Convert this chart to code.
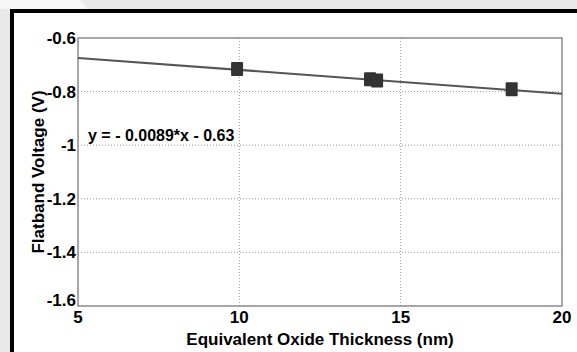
<!DOCTYPE html>
<html>
<head>
<meta charset="utf-8">
<script src="https://cdn.jsdelivr.net/npm/d3@7"></script>
<style>
  body { margin: 0; background: #fff; }
  svg { display: block; font-family: "Liberation Sans", Arial, sans-serif; }
</style>
</head>
<body>
<div id="chart"></div>
<script>
const width = 577;
const height = 352;

// measured points
const thickness = [9.93, 14.05, 14.27, 18.44];
const voltage = [-0.716, -0.754, -0.759, -0.791];

// fitted line y = slope*x + intercept
const slope = -0.0089;
const intercept = -0.63;
const fitLabel = "y = - 0.0089*x - 0.63";

const xTicks = [5, 10, 15, 20];
const yTicks = [-0.6, -0.8, -1, -1.2, -1.4, -1.6];

const margin = { left: 78, right: 15, top: 38, bottom: 46 };

let svg = d3
  .select("#chart")
  .append("svg")
  .attr("width", width)
  .attr("height", height);

// page background + frame
svg.append("rect").attr("width", width).attr("height", height).attr("fill", "#e9e9e9");
svg.append("path").attr("d", "M0,0 L80,0 L88,9 L0,9 Z").attr("fill", "#f6f6f6");
svg.append("rect").attr("x", 10).attr("y", 9).attr("width", width).attr("height", height).attr("fill", "#000");
svg.append("rect").attr("x", 14).attr("y", 13).attr("width", width).attr("height", height).attr("fill", "#fff");

const x = d3
  .scaleLinear()
  .domain([5, 20])
  .range([margin.left, width - margin.right]);

const y = d3
  .scaleLinear()
  .domain([-1.6, -0.6])
  .range([height - margin.bottom, margin.top]);

let g = svg.append("g");

// grid
g.selectAll(".vgrid")
  .data(xTicks.slice(1, -1))
  .enter()
  .append("line")
  .attr("x1", d => x(d)).attr("x2", d => x(d))
  .attr("y1", y(-0.6)).attr("y2", y(-1.6))
  .attr("stroke", "#999").attr("stroke-width", 1).attr("stroke-dasharray", "1,2");

g.selectAll(".hgrid")
  .data(yTicks.slice(1, -1))
  .enter()
  .append("line")
  .attr("x1", x(5)).attr("x2", x(20))
  .attr("y1", d => y(d)).attr("y2", d => y(d))
  .attr("stroke", "#999").attr("stroke-width", 1).attr("stroke-dasharray", "1,2");

// box
g.append("rect")
  .attr("x", x(5)).attr("y", y(-0.6))
  .attr("width", x(20) - x(5)).attr("height", y(-1.6) - y(-0.6))
  .attr("fill", "none").attr("stroke", "#8a8a8a").attr("stroke-width", 1.5);

// fit line
g.append("line")
  .attr("x1", x(5)).attr("y1", y(slope * 5 + intercept))
  .attr("x2", x(20)).attr("y2", y(slope * 20 + intercept))
  .attr("stroke", "#555").attr("stroke-width", 2);

// markers
g.selectAll(".pt")
  .data(thickness)
  .enter()
  .append("rect")
  .attr("x", (d, i) => x(d) - 6)
  .attr("y", (d, i) => y(voltage[i]) - 7)
  .attr("width", 12).attr("height", 14)
  .attr("rx", 1)
  .attr("fill", "#333");

// tick labels
g.selectAll(".xt")
  .data(xTicks)
  .enter()
  .append("text")
  .attr("x", d => x(d))
  .attr("y", y(-1.6) + 17)
  .attr("text-anchor", "middle")
  .attr("font-size", 17).attr("font-weight", "bold")
  .text(d => d);

g.selectAll(".yt")
  .data(yTicks)
  .enter()
  .append("text")
  .attr("x", x(5) - 2)
  .attr("y", d => (d === -1.6 ? y(d) : y(d) + 6))
  .attr("text-anchor", "end")
  .attr("font-size", 17).attr("font-weight", "bold")
  .text(d => d);

// axis titles
svg.append("text")
  .attr("x", (x(5) + x(20)) / 2)
  .attr("y", 345)
  .attr("text-anchor", "middle")
  .attr("font-size", 17).attr("font-weight", "bold")
  .text("Equivalent Oxide Thickness (nm)");

svg.append("text")
  .attr("transform", "translate(44," + (y(-1.1)) + ") rotate(-90)")
  .attr("text-anchor", "middle")
  .attr("font-size", 17).attr("font-weight", "bold")
  .text("Flatband Voltage (V)");

// equation
svg.append("text")
  .attr("x", 88).attr("y", 141)
  .attr("font-size", 16).attr("font-weight", "bold")
  .text(fitLabel);
</script>
</body>
</html>
